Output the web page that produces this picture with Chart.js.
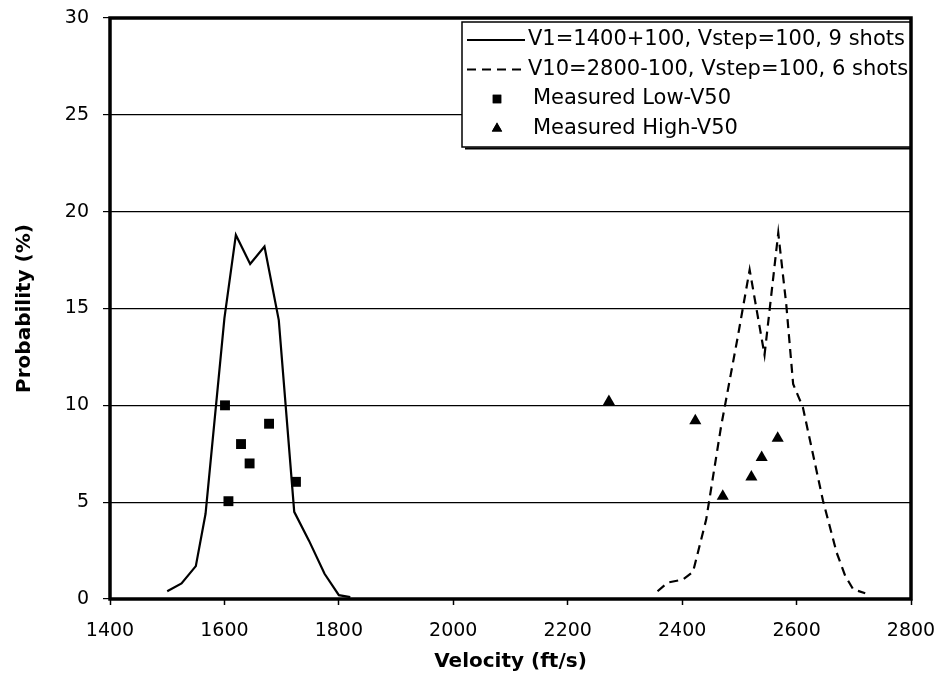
<!DOCTYPE html>
<html>
<head>
<meta charset="utf-8">
<title>Probability vs Velocity</title>
<script src="https://cdn.jsdelivr.net/npm/chart.js@4.4.1/dist/chart.umd.min.js"></script>
<style>
  html, body { margin: 0; padding: 0; background: #fff; }
</style>
</head>
<body>
<canvas id="chart" width="943" height="677"></canvas>
<script>
// curve 1: V1=1400+100 (solid)
var lowCurveV = [1500, 1525, 1550, 1567, 1600, 1620, 1645, 1670, 1695, 1722, 1748, 1775, 1800, 1820];
var lowCurveP = [0.4, 0.8, 1.7, 4.4, 14.5, 18.8, 17.3, 18.2, 14.4, 4.5, 3.0, 1.3, 0.2, 0.1];

// curve 2: V10=2800-100 (dashed)
var highCurveV = [2357, 2375, 2401, 2419, 2442, 2468, 2497, 2518, 2544, 2568, 2582, 2594, 2611, 2646, 2670, 2685, 2699, 2720];
var highCurveP = [0.4, 0.85, 1.0, 1.4, 4.1, 8.9, 13.5, 17.0, 12.6, 18.9, 15.2, 11.1, 9.9, 5.1, 2.4, 1.2, 0.5, 0.3];

// measured points
var lowV50V = [1601, 1607, 1629, 1644, 1678, 1725];
var lowV50P = [10.0, 5.05, 8.0, 7.0, 9.05, 6.05];
var highV50V = [2272, 2423, 2471, 2521, 2539, 2567];
var highV50P = [10.2, 9.2, 5.3, 6.3, 7.3, 8.3];

var labels = [
    "V1=1400+100, Vstep=100, 9 shots",
    "V10=2800-100, Vstep=100, 6 shots",
    "Measured Low-V50",
    "Measured High-V50"
];
var xTicks = [1400, 2800, 200];
var yTicks = [0, 30, 5];

function pairs(xs, ys) {
    var out = [];
    for (var i = 0; i < xs.length; i++) out.push({x: xs[i], y: ys[i]});
    return out;
}

var FONT = "'DejaVu Sans', sans-serif";

// legend box and heavy frame, drawn like the spreadsheet original
var frameAndLegend = {
    id: 'frameAndLegend',
    afterDatasetsDraw: function (chart) {
        var ctx = chart.ctx;
        var area = chart.chartArea;
        var x0 = 462, y0 = area.top + 4, x1 = area.right, y1 = 147;
        ctx.save();
        ctx.fillStyle = '#fff';
        ctx.fillRect(x0, y0, x1 - x0, y1 - y0);
        ctx.strokeStyle = '#000';
        ctx.lineWidth = 1.5;
        ctx.strokeRect(x0, y0, x1 - x0, y1 - y0);
        ctx.lineWidth = 2;
        ctx.beginPath();
        ctx.moveTo(x0 + 3, y1 + 1.5);
        ctx.lineTo(x1, y1 + 1.5);
        ctx.stroke();

        ctx.font = '21px ' + FONT;
        ctx.textBaseline = 'middle';
        ctx.textAlign = 'left';
        ctx.fillStyle = '#000';
        var sets = chart.data.datasets;
        for (var i = 0; i < sets.length; i++) {
            var ds = sets[i];
            var yy = 40 + i * 29.5;
            if (ds.showLine) {
                ctx.lineWidth = 2;
                ctx.setLineDash(ds.borderDash || []);
                ctx.beginPath();
                ctx.moveTo(467, yy);
                ctx.lineTo(525, yy);
                ctx.stroke();
                ctx.setLineDash([]);
                ctx.fillText(ds.label, 528, yy);
            } else {
                Chart.helpers.drawPoint(ctx, {pointStyle: ds.pointStyle, radius: 6, borderWidth: 0}, 497, yy);
                ctx.fill();
                ctx.fillText(ds.label, 533, yy);
            }
        }

        ctx.lineWidth = 3.5;
        ctx.strokeRect(area.left, area.top, area.right - area.left, area.bottom - area.top);
        ctx.restore();
    }
};

var chart = new Chart(document.getElementById('chart'), {
    type: 'scatter',
    data: {
        datasets: [{
            label: labels[0],
            data: pairs(lowCurveV, lowCurveP),
            showLine: true,
            borderColor: '#000',
            borderWidth: 2.2,
            pointRadius: 0,
            fill: false
        }, {
            label: labels[1],
            data: pairs(highCurveV, highCurveP),
            showLine: true,
            borderColor: '#000',
            borderWidth: 2.2,
            borderDash: [9, 6],
            pointRadius: 0,
            fill: false
        }, {
            label: labels[2],
            data: pairs(lowV50V, lowV50P),
            pointStyle: 'rect',
            pointRadius: 7,
            backgroundColor: '#000',
            borderColor: '#000',
            borderWidth: 0
        }, {
            label: labels[3],
            data: pairs(highV50V, highV50P),
            pointStyle: 'triangle',
            pointRadius: 7,
            backgroundColor: '#000',
            borderColor: '#000',
            borderWidth: 0
        }]
    },
    options: {
        responsive: false,
        animation: false,
        layout: { padding: { top: 18, right: 32, left: 0, bottom: 0 } },
        plugins: {
            legend: { display: false },
            tooltip: { enabled: false }
        },
        scales: {
            x: {
                type: 'linear',
                min: xTicks[0],
                max: xTicks[1],
                afterFit: function (s) {
                    s.height = 78;
                    s.paddingLeft = 0;
                    s.paddingRight = 0;
                },
                ticks: {
                    stepSize: xTicks[2],
                    color: '#000',
                    padding: 15,
                    maxRotation: 0,
                    callback: function (v) { return String(v); },
                    font: { family: FONT, size: 19 }
                },
                grid: { drawOnChartArea: false, tickLength: 6, tickColor: '#000', tickWidth: 1.5 },
                border: { display: false },
                title: {
                    display: true,
                    text: 'Velocity (ft/s)',
                    color: '#000',
                    padding: { top: 0, bottom: 3 },
                    font: { family: FONT, size: 20, weight: 'bold' }
                }
            },
            y: {
                min: yTicks[0],
                max: yTicks[1],
                afterFit: function (s) {
                    s.width = 110;
                    s.paddingTop = 0;
                    s.paddingBottom = 0;
                },
                ticks: {
                    stepSize: yTicks[2],
                    color: '#000',
                    padding: 14,
                    font: { family: FONT, size: 19 }
                },
                grid: { color: '#000', lineWidth: 1.2, tickLength: 7, tickColor: '#000' },
                border: { display: false },
                title: {
                    display: true,
                    text: 'Probability (%)',
                    color: '#000',
                    padding: { top: 13, bottom: 0 },
                    font: { family: FONT, size: 20, weight: 'bold' }
                }
            }
        }
    },
    plugins: [frameAndLegend]
});
</script>
</body>
</html>
